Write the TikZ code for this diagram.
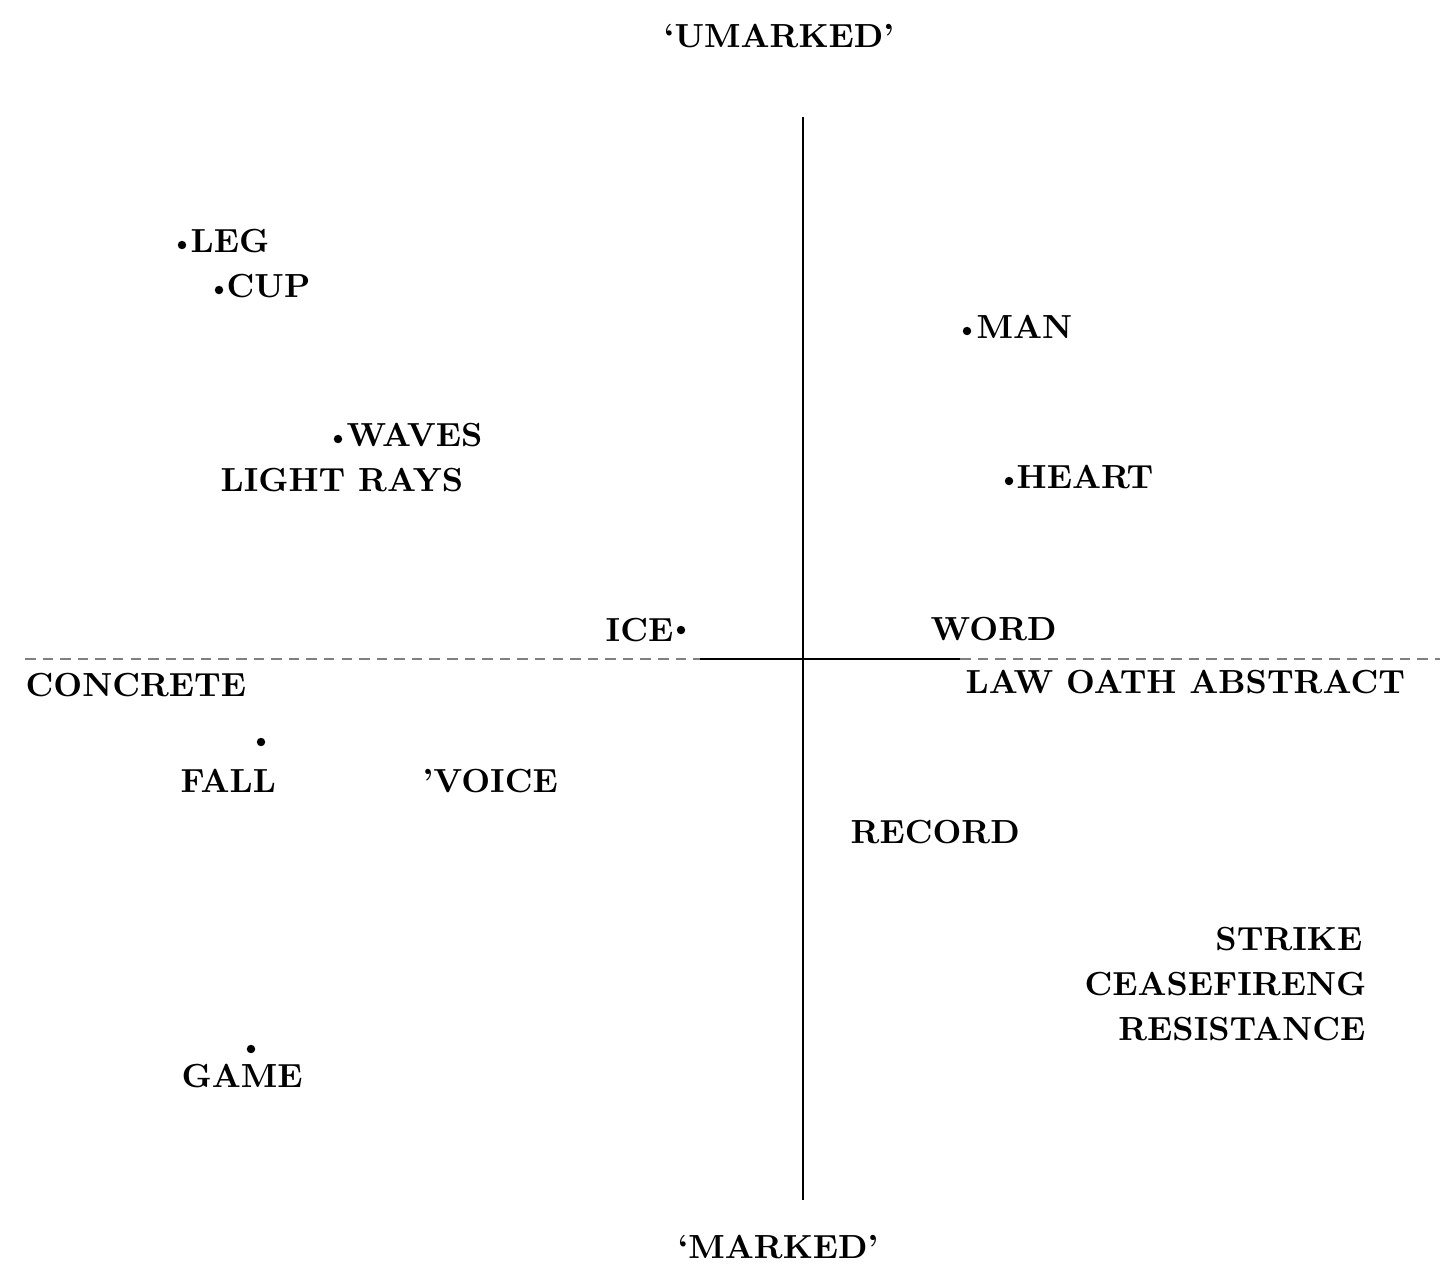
\documentclass[tikz,border=0pt]{standalone}
\usepackage{tikz}
\usepackage{xcolor}

\begin{document}
\begin{tikzpicture}[x=0.01cm,y=-0.01cm,
  term/.style={anchor=base west,inner sep=0pt,font=\fontsize{9.5}{11}\selectfont\bfseries},
  pole/.style={anchor=base,inner sep=0pt,font=\fontsize{9.5}{11}\selectfont\bfseries},
  pt/.style={circle,fill,inner sep=0pt,minimum size=2.4pt},
  axis/.style={line width=0.6pt}]
\useasboundingbox (0,0) rectangle (1442,1263);
\coordinate (top) at (803,117);
\coordinate (bot) at (803,1200);
\coordinate (left) at (25,659);
\coordinate (mid) at (700,659);
\coordinate (rmid) at (960,659);
\coordinate (right) at (1440,659);
\draw[axis] (top) -- (bot);
\draw[axis,gray,densely dashed] (left) -- (mid);
\draw[axis] (mid) -- (rmid);
\draw[axis,gray,densely dashed] (rmid) -- (right);
\node[pole] (unmarked) at (779,47) {`UMARKED'};
\node[pole] (marked) at (778,1258) {`MARKED'};
\node[pt] (pleg) at (182,245) {};
\node[term] (leg) at (190,252) {LEG};
\node[pt] (pcup) at (219,290) {};
\node[term] (cup) at (226,297) {CUP};
\node[pt] (pman) at (967,331) {};
\node[term] (man) at (976,338) {MAN};
\node[pt] (pwaves) at (338,439) {};
\node[term] (waves) at (346,446) {WAVES};
\node[term] (rays) at (220,491) {LIGHT RAYS};
\node[pt] (pheart) at (1009,481) {};
\node[term] (heart) at (1016,488) {HEART};
\node[term] (ice) at (605,641) {ICE};
\node[pt] (pice) at (681,630) {};
\node[term] (word) at (930,640) {WORD};
\node[term] (concrete) at (25,696) {CONCRETE};
\node[term] (abstract) at (965,693) {LAW OATH ABSTRACT};
\node[pt] (pfall) at (261,742) {};
\node[term] (fall) at (180,792) {FALL};
\node[term] (voice) at (422,792) {'VOICE};
\node[term] (record) at (850,843) {RECORD};
\node[term,anchor=base east] (strike) at (1363,950) {STRIKE};
\node[term,anchor=base east] (ceasefire) at (1367,995) {CEASEFIRENG};
\node[term,anchor=base east] (resistance) at (1366,1040) {RESISTANCE};
\node[pt] (pgame) at (251,1049) {};
\node[term] (game) at (181,1087) {GAME};
\end{tikzpicture}
\end{document}
